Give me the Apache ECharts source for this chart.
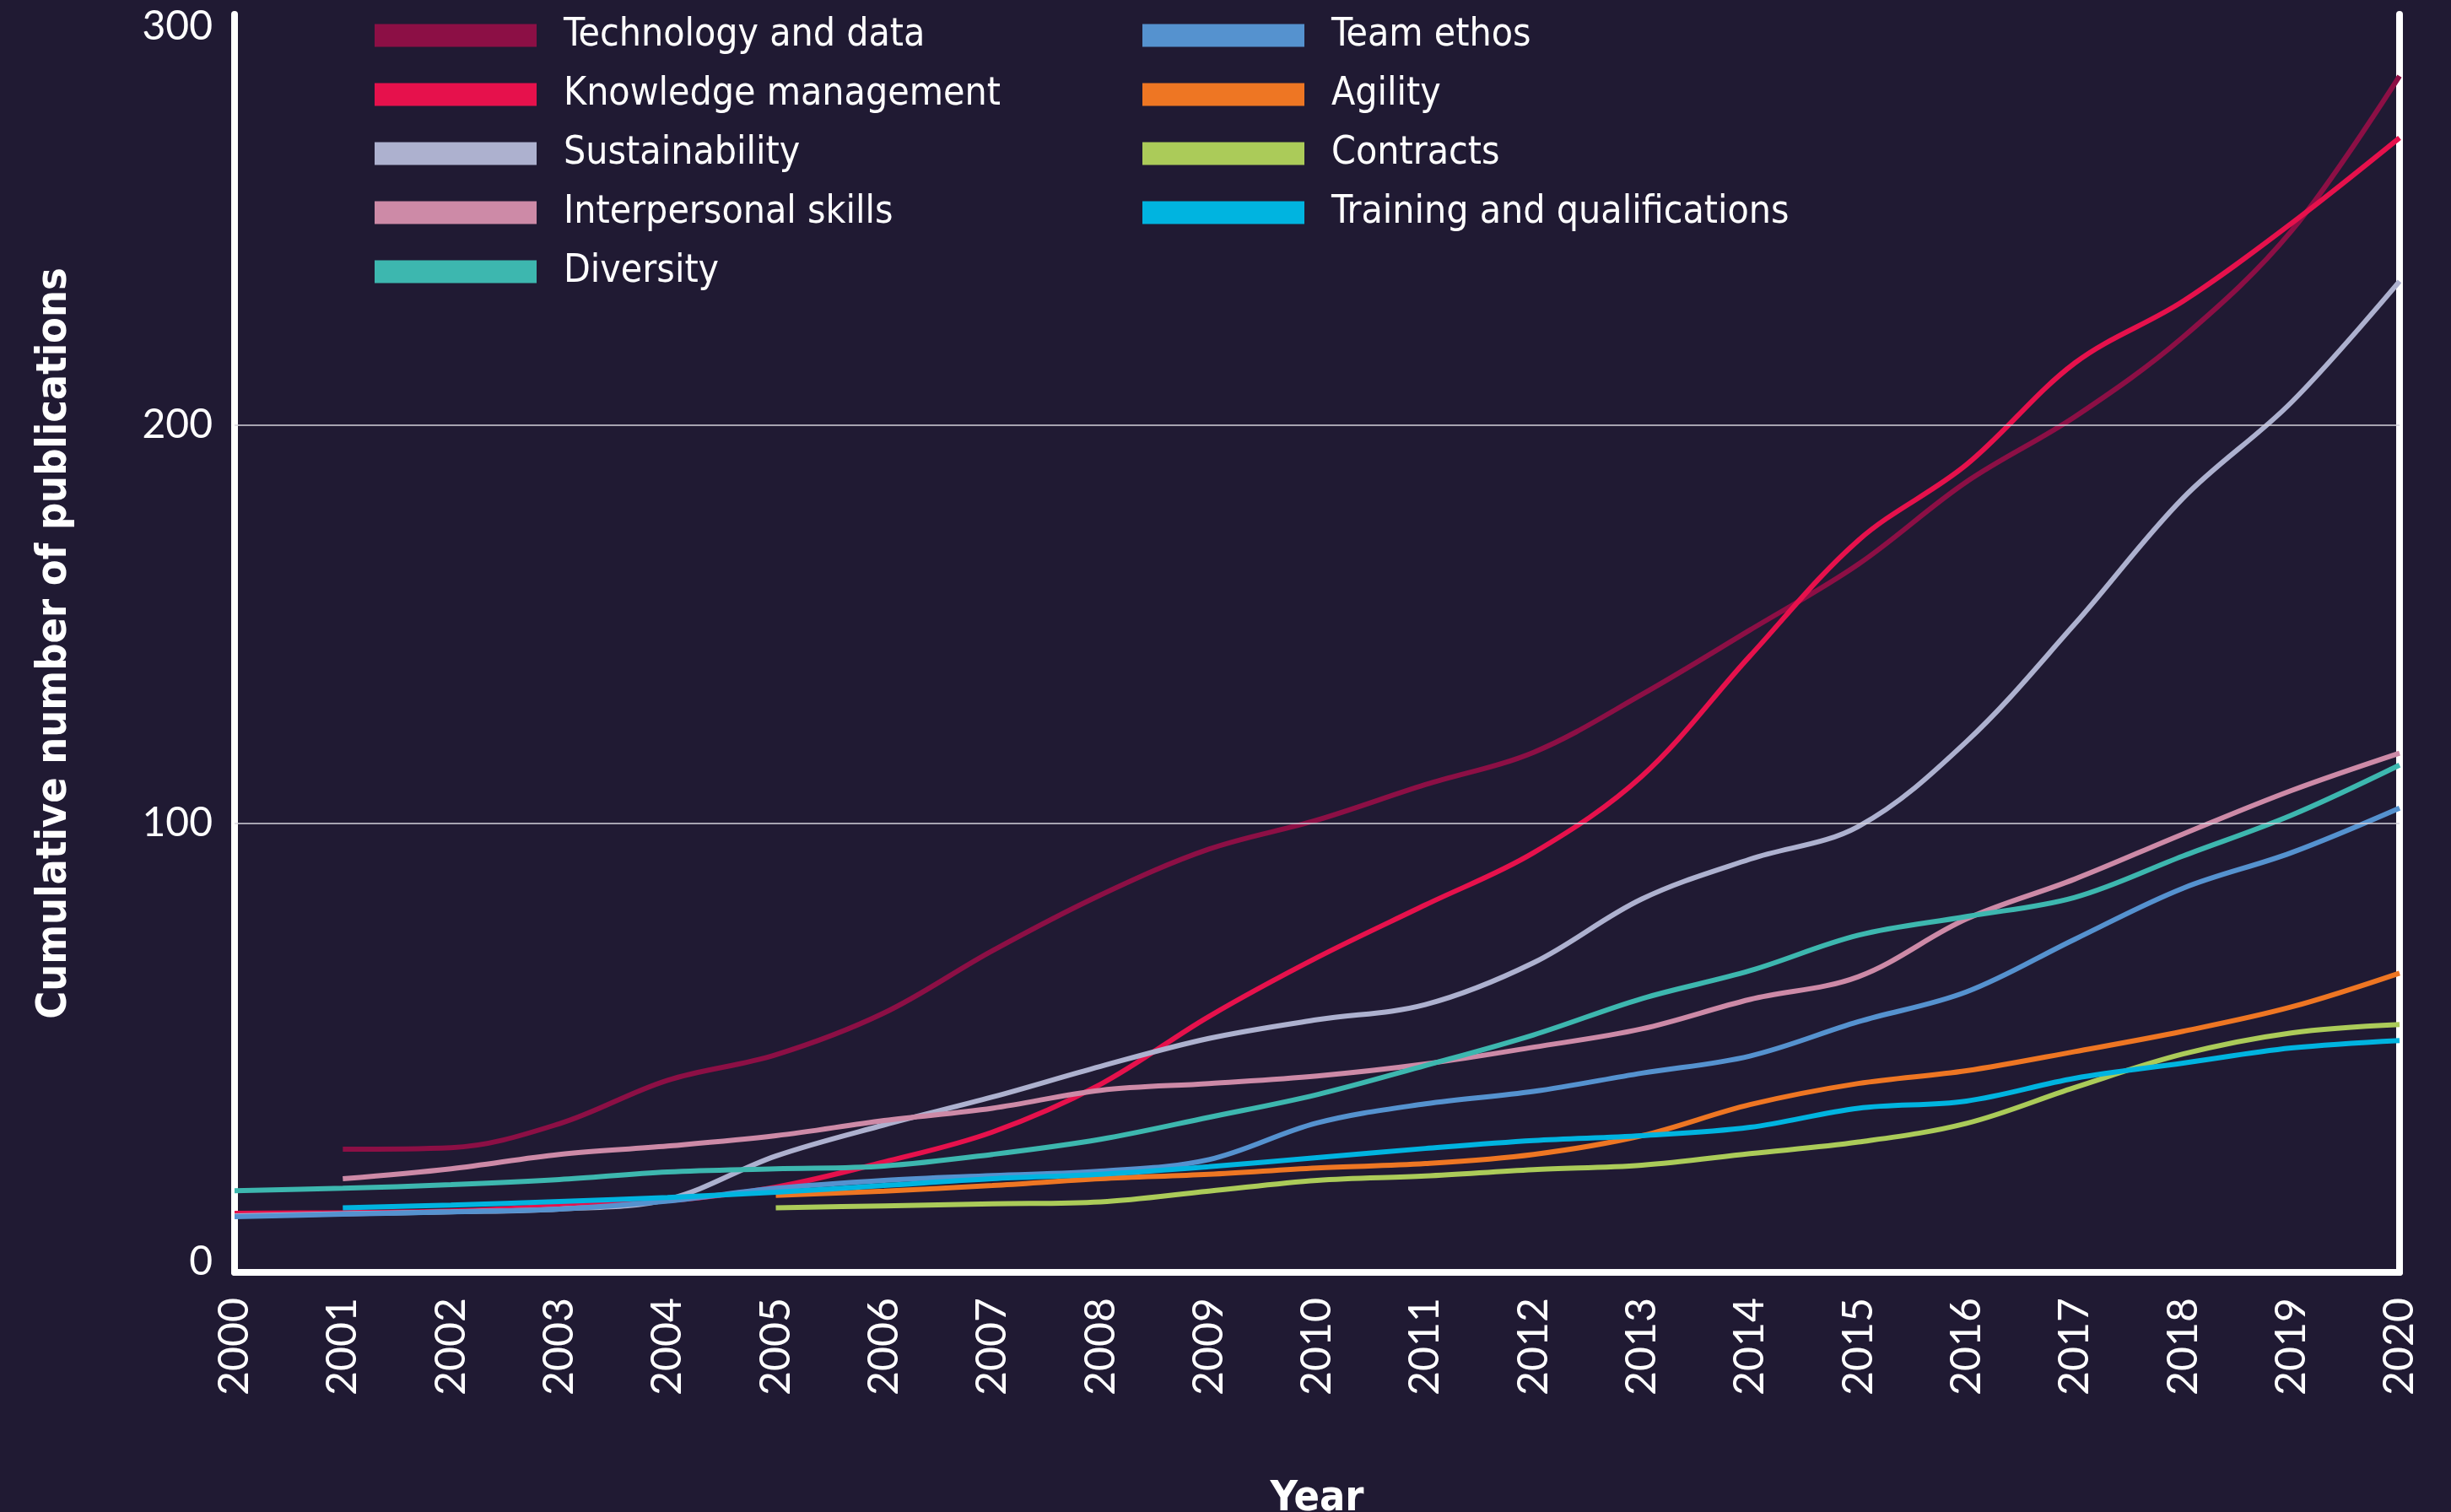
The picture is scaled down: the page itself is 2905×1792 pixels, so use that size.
<!DOCTYPE html>
<html>
<head>
<meta charset="utf-8">
<title>Cumulative number of publications</title>
<script src="https://cdn.jsdelivr.net/npm/echarts@6/dist/echarts.min.js"></script>
<style>
  html, body { margin: 0; padding: 0; background: #201a33; }
  #main { width: 2905px; height: 1792px; }
</style>
</head>
<body>
<div id="main"></div>
<script>
var years = ['2000', '2001', '2002', '2003', '2004', '2005', '2006', '2007', '2008', '2009', '2010',
  '2011', '2012', '2013', '2014', '2015', '2016', '2017', '2018', '2019', '2020'];

// cumulative counts per year (null = no publications yet)
var technology = [null, 18.2, 18.6, 24.6, 35.5, 41.9, 52.4, 68, 82, 93.5, 100.8, 109.7, 117.8, 132.3, 148.5, 165, 185.7, 202, 222, 248.6, 287.5];
var knowledge = [2.1, 2.3, 2.7, 4, 5.3, 8.7, 15, 22.5, 34.5, 51.5, 66.3, 79.5, 92.6, 111.8, 142, 171, 190, 215.5, 231, 250.5, 272];
var sustainability = [1.5, 2, 2.5, 3.2, 5.6, 16.5, 24.3, 31.3, 39, 46, 50.7, 54.5, 65, 81, 91, 99.2, 120.5, 150, 181.6, 205.6, 236];
var interpersonal = [null, 10.8, 13.3, 16.9, 19, 21.6, 25.4, 28.5, 33, 34.7, 36.6, 39.6, 43.8, 48.4, 55.8, 61.5, 76, 86, 97.3, 108.2, 117.6];
var diversity = [7.8, 8.4, 9.3, 10.6, 12.5, 13.3, 14, 16.9, 20.7, 26.2, 31.9, 39.2, 46.9, 56, 63, 71.9, 76.6, 81.4, 91.8, 102, 114.6];
var teamEthos = [1.3, 1.9, 2.5, 3.2, 5.2, 8.4, 10.4, 11.6, 12.7, 15.6, 24.8, 29.6, 32.7, 37.3, 41.6, 50.2, 57.7, 70.9, 83.7, 92.6, 103.8];
var agility = [null, null, null, null, null, 6.6, 7.7, 9.1, 10.8, 11.9, 13.5, 14.6, 16.9, 21.6, 29.4, 34.7, 37.9, 42.7, 47.8, 53.9, 62.4];
var contracts = [null, null, null, null, null, 3.5, 4, 4.5, 5, 7.7, 10.4, 11.5, 13.1, 14.2, 17.1, 20, 24.7, 33.7, 42.1, 47.4, 49.5];
var training = [null, 3.5, 4.2, 5.1, 6.1, 7.4, 9.1, 10.8, 11.9, 13.8, 16.1, 18.4, 20.4, 21.6, 23.7, 28.5, 30.3, 36, 39.8, 43.6, 45.5];

var names = ['Technology and data', 'Knowledge management', 'Sustainability', 'Interpersonal skills', 'Diversity',
  'Team ethos', 'Agility', 'Contracts', 'Training and qualifications'];
var values = [technology, knowledge, sustainability, interpersonal, diversity, teamEthos, agility, contracts, training];
var colors = ['#8c0f45', '#e6114c', '#adb1cf', '#cd8aa7', '#3db7af', '#5592cf', '#ee7623', '#abcb59', '#00b4e0'];

// the "0" label sits at the foot of the axis in the original
var yLabelValues = [-10, 100, 200, 300];
var gridValues = [100, 200];

var yMin = -12.7, yMax = 303;
var narrow = "'Liberation Sans Narrow', 'DejaVu Sans Condensed', 'Noto Sans', sans-serif";
var tickFont = "Lato, 'Noto Sans', sans-serif";

var chart = echarts.init(document.getElementById('main'));

var series = names.map(function (n, i) {
  var s = {
    name: n,
    type: 'line',
    data: values[i],
    smooth: 0.35,
    symbol: 'none',
    lineStyle: { width: 6, color: colors[i], cap: 'butt' },
    itemStyle: { color: colors[i] }
  };
  if (i === 0) {
    s.markLine = {
      silent: true,
      symbol: 'none',
      label: { show: false },
      lineStyle: { type: 'solid', color: '#d4d3dc', width: 1.5 },
      data: gridValues.map(function (v) { return { yAxis: v }; })
    };
  }
  return s;
});

function legendBlock(left, data) {
  return {
    left: left,
    top: 13,
    orient: 'vertical',
    icon: 'rect',
    itemWidth: 192,
    itemHeight: 27,
    itemGap: 22,
    selectedMode: false,
    data: data,
    textStyle: {
      color: '#ffffff',
      fontSize: 46,
      lineHeight: 48,
      fontFamily: narrow,
      padding: [0, 0, 0, 27]
    }
  };
}

chart.setOption({
  backgroundColor: '#201a33',
  animation: false,
  legend: [legendBlock(439, names.slice(0, 5)), legendBlock(1349, names.slice(5))],
  grid: { left: 278, right: 61, top: 17, bottom: 284, outerBoundsMode: 'none' },
  xAxis: {
    type: 'category',
    data: years,
    boundaryGap: false,
    name: 'Year',
    nameLocation: 'middle',
    nameGap: 244,
    nameTextStyle: { color: '#ffffff', fontSize: 50, fontWeight: 'bold', fontFamily: narrow },
    axisLine: { onZero: false, lineStyle: { color: '#ffffff', width: 8 } },
    axisTick: { show: false },
    axisLabel: { interval: 0, rotate: 90, margin: 30, color: '#ffffff', fontSize: 50, fontFamily: tickFont },
    splitLine: { show: false }
  },
  yAxis: [{
    type: 'value',
    min: yMin,
    max: yMax,
    name: 'Cumulative number of publications',
    nameLocation: 'middle',
    nameRotate: 90,
    nameGap: 188,
    nameTextStyle: { color: '#ffffff', fontSize: 50, fontWeight: 'bold', fontFamily: narrow },
    axisLine: { show: true, onZero: false, lineStyle: { color: '#ffffff', width: 8 } },
    axisTick: { show: false },
    axisLabel: {
      customValues: yLabelValues,
      margin: 26,
      color: '#ffffff',
      fontSize: 48,
      fontFamily: tickFont,
      formatter: function (v) { return v < 0 ? '0' : String(v); }
    },
    splitLine: { show: false }
  }, {
    type: 'value',
    position: 'right',
    min: yMin,
    max: yMax,
    axisLine: { show: true, onZero: false, lineStyle: { color: '#ffffff', width: 8 } },
    axisTick: { show: false },
    axisLabel: { show: false },
    splitLine: { show: false }
  }],
  series: series
});
</script>
</body>
</html>
